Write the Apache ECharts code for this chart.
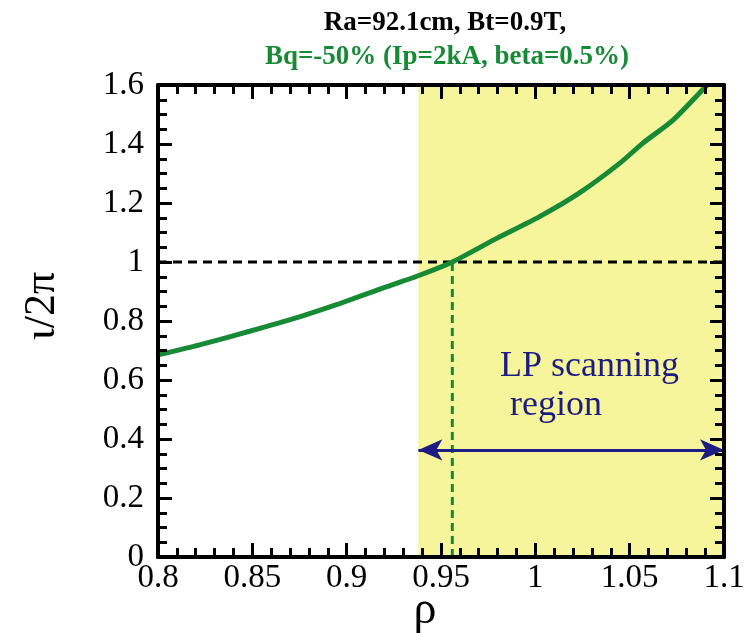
<!DOCTYPE html>
<html>
<head>
<meta charset="utf-8">
<script src="https://cdn.jsdelivr.net/npm/echarts@6/dist/echarts.min.js"></script>
<style>html,body{margin:0;padding:0;background:#fff}#c{width:751px;height:633px}</style>
</head>
<body>
<div id="c"></div>
<script>
// ---- data ----
const rho  = [0.80, 0.822, 0.849, 0.875, 0.895, 0.918, 0.939, 0.956, 0.978, 1.002, 1.024, 1.045, 1.057, 1.073, 1.091];
const iota = [0.685, 0.719, 0.766, 0.814, 0.856, 0.909, 0.956, 1.0, 1.075, 1.153, 1.237, 1.336, 1.403, 1.481, 1.6];
const xTicks = [0.8, 0.85, 0.9, 0.95, 1, 1.05, 1.1];
const yTicks = [0, 0.2, 0.4, 0.6, 0.8, 1, 1.2, 1.4, 1.6];
const regionStart = 0.938;
const regionEnd = 1.1;
const iotaRef = 1.0;
const rhoCross = 0.956;
const arrowY = 0.363;
const titleLine1 = 'Ra=92.1cm, Bt=0.9T,';
const titleLine2 = 'Bq=-50% (Ip=2kA, beta=0.5%)';
const regionLabel = ['LP scanning', 'region'];

const SERIF = '"Liberation Serif", "DejaVu Serif", serif';
const GREEN = '#178a36';
const NAVY = '#1c1c82';
const GRID = {left: 158, right: 27, top: 85, bottom: 76};

const chart = echarts.init(document.getElementById('c'));

const xMin = xTicks[0], xMax = xTicks[xTicks.length - 1];
const yMin = yTicks[0], yMax = yTicks[yTicks.length - 1];

// hidden axes that carry the data series (grid 0)
const dataX = {type: 'value', gridIndex: 0, min: xMin, max: xMax, interval: 0.05, show: false};
const dataY = {type: 'value', gridIndex: 0, min: yMin, max: yMax, interval: 0.2, show: false};

// frame axes with ticks and labels (grid 1, own canvas layer)
function frameX(pos, labels) {
  return {
    type: 'value', gridIndex: 1, zlevel: 1, position: pos, min: xMin, max: xMax, interval: 0.05,
    axisLine: {show: true, onZero: false, lineStyle: {color: '#000', width: 4}},
    axisTick: {show: true, inside: true, length: 14, lineStyle: {color: '#000', width: 3}},
    minorTick: {show: true, splitNumber: 5, length: 9, lineStyle: {color: '#000', width: 3}},
    axisLabel: labels ? {fontFamily: SERIF, fontSize: 33, color: '#000', margin: 5} : {show: false},
    splitLine: {show: false}
  };
}
function frameY(pos, labels) {
  return {
    type: 'value', gridIndex: 1, zlevel: 1, position: pos, min: yMin, max: yMax, interval: 0.2,
    axisLine: {show: true, onZero: false, lineStyle: {color: '#000', width: 4}},
    axisTick: {show: true, inside: true, length: 14, lineStyle: {color: '#000', width: 3}},
    minorTick: {show: true, splitNumber: 4, length: 9, lineStyle: {color: '#000', width: 3}},
    axisLabel: labels ? {fontFamily: SERIF, fontSize: 33, color: '#000', margin: 14} : {show: false},
    splitLine: {show: false}
  };
}

chart.setOption({
  animation: false,
  grid: [Object.assign({}, GRID), Object.assign({zlevel: 1}, GRID)],
  xAxis: [dataX, frameX('bottom', true), frameX('top', false)],
  yAxis: [dataY, frameY('left', true), frameY('right', false)],
  graphic: {
    elements: [
      {type: 'text', z: 100, style: {x: 445, y: 23, text: titleLine1, font: 'bold 27px ' + SERIF, fill: '#000', textAlign: 'center', textVerticalAlign: 'middle'}},
      {type: 'text', z: 100, style: {x: 447, y: 57, text: titleLine2, font: 'bold 27px ' + SERIF, fill: GREEN, textAlign: 'center', textVerticalAlign: 'middle'}},
      {type: 'text', z: 100, style: {x: 500, y: 367, text: regionLabel[0], font: '36px ' + SERIF, fill: NAVY, textAlign: 'left', textVerticalAlign: 'middle'}},
      {type: 'text', z: 100, style: {x: 510, y: 406, text: regionLabel[1], font: '36px ' + SERIF, fill: NAVY, textAlign: 'left', textVerticalAlign: 'middle'}},
      {type: 'text', z: 100, style: {x: 425, y: 611, text: 'ρ', font: '46px ' + SERIF, fill: '#000', textAlign: 'center', textVerticalAlign: 'middle'}},
      {type: 'text', z: 100, x: 42, y: 306, rotation: Math.PI / 2, style: {x: 0, y: 0, text: 'ι/2π', font: '44px ' + SERIF, fill: '#000', textAlign: 'center', textVerticalAlign: 'middle'}}
    ]
  },
  series: [
    {
      type: 'line', name: 'ref', xAxisIndex: 0, yAxisIndex: 0,
      data: [[xMin, iotaRef], [xMax, iotaRef]],
      symbol: 'none', z: 3, lineStyle: {color: '#000', width: 3, type: [9, 6]},
      markArea: {silent: true, itemStyle: {color: '#f7f59b'}, data: [[{xAxis: regionStart}, {xAxis: regionEnd}]]}
    },
    {
      type: 'line', name: 'cross', xAxisIndex: 0, yAxisIndex: 0,
      data: [[rhoCross, 0], [rhoCross, iotaRef]],
      symbol: 'none', z: 3, lineStyle: {color: GREEN, width: 3, type: [8, 5]},
      markLine: {
        silent: true, symbol: ['arrow', 'arrow'], symbolSize: [16, 24],
        lineStyle: {color: NAVY, width: 3, type: 'solid'}, label: {show: false},
        data: [[{coord: [regionStart, arrowY]}, {coord: [regionEnd, arrowY]}]]
      }
    },
    {
      type: 'line', name: 'iota', xAxisIndex: 0, yAxisIndex: 0,
      data: rho.map((r, i) => [r, iota[i]]),
      symbol: 'none', smooth: 0.2, z: 4, lineStyle: {color: GREEN, width: 5}
    }
  ]
});
</script>
</body>
</html>
